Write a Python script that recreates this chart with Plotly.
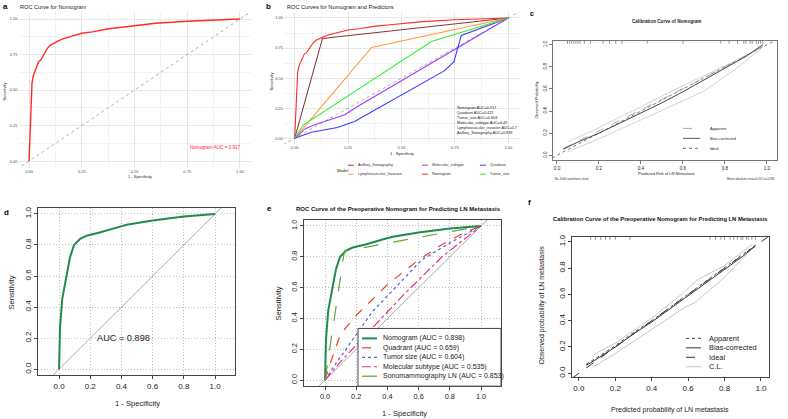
import plotly.graph_objects as go

W, H = 788, 419
FONT = "Liberation Sans, Arial, sans-serif"

# ================= DATA =================
# Panel a / b : Nomogram ROC (training set)
nomo_fpr = [0, 0.003, 0.006, 0.01, 0.014, 0.02, 0.027, 0.035, 0.045, 0.055, 0.065, 0.075,
            0.085, 0.1, 0.115, 0.13, 0.16, 0.2, 0.25, 0.3, 0.37, 0.46, 0.6, 0.75, 0.9, 1.0]
nomo_tpr = [0, 0.1, 0.3, 0.44, 0.55, 0.6, 0.63, 0.67, 0.7, 0.71, 0.74, 0.77,
            0.79, 0.815, 0.83, 0.84, 0.86, 0.88, 0.9, 0.91, 0.93, 0.946, 0.97, 0.985, 0.993, 1.0]
a_auc_label = "Nomogram AUC = 0.917"

# Panel b : predictors
axil_fpr, axil_tpr = [0, 0.13, 1], [0, 0.83, 1]
lymph_fpr, lymph_tpr = [0, 0.36, 1], [0, 0.755, 1]
tumor_fpr, tumor_tpr = [0, 0.04, 0.64, 1], [0, 0.11, 0.805, 1]
mol_fpr, mol_tpr = [0, 0.05, 0.09, 0.235, 0.3, 1], [0, 0.08, 0.11, 0.195, 0.27, 1]
quad_fpr = [0, 0.078, 0.2, 0.28, 0.7, 0.745, 0.78, 1]
quad_tpr = [0, 0.05, 0.09, 0.14, 0.56, 0.635, 0.855, 1]
b_auc_lines = ["Nomogram AUC=0.917", "Quadrant AUC=0.422", "Tumor_size AUC=0.604",
               "Molecular_subtype AUC=0.49", "Lymphovascular_invasion AUC=0.7",
               "Axillary_Sonography AUC=0.833"]
b_models = ["Axillary_Sonography", "Lymphovascular_Invasion", "Molecular_subtype",
            "Nomogram", "Quadrant", "Tumor_size"]
b_colors = ["#8B3A3A", "#FF9A3C", "#9A3CFF", "#FF2A2A", "#3A3AFF", "#33EE33"]

# Panel c : calibration (training)
c_pred = [0.03, 0.1, 0.2, 0.3, 0.4, 0.5, 0.6, 0.7, 0.8, 0.9, 0.98]
c_bias = [0.055, 0.12, 0.2, 0.29, 0.38, 0.475, 0.575, 0.68, 0.79, 0.895, 1.0]
c_app = [0.06, 0.13, 0.22, 0.315, 0.41, 0.505, 0.6, 0.7, 0.8, 0.9, 0.985]
c_hi_pred = [0.05, 0.2, 0.4, 0.6, 0.8, 0.95, 0.98]
c_hi_obs = [0.12, 0.25, 0.44, 0.63, 0.81, 0.95, 0.99]
c_lo_pred = [0.05, 0.2, 0.4, 0.55, 0.7, 0.85, 0.97]
c_lo_obs = [0.03, 0.15, 0.32, 0.45, 0.58, 0.78, 0.96]
c_rug = [0.05, 0.06, 0.07, 0.08, 0.09, 0.1, 0.11, 0.13, 0.16, 0.22, 0.25, 0.28, 0.31,
         0.43, 0.6, 0.78, 0.82, 0.86, 0.89, 0.9, 0.92, 0.93, 0.95, 0.96, 0.97, 0.98]
c_legend = ["Apparent", "Bias-corrected", "Ideal"]

# Panel d / e : validation ROC
d_fpr = [0, 0.004, 0.006, 0.02, 0.043, 0.07, 0.096, 0.135, 0.177, 0.26, 0.38, 0.434, 0.6, 0.8, 1]
d_tpr = [0, 0.1, 0.263, 0.45, 0.573, 0.72, 0.80, 0.84, 0.86, 0.88, 0.915, 0.93, 0.957, 0.983, 1]
d_auc_label = "AUC = 0.898"
sono_fpr, sono_tpr = [0, 0.124, 1], [0, 0.837, 1]
quad_e_fpr = [0, 0.03, 0.1, 0.2, 0.4, 0.6, 0.75, 0.9, 1]
quad_e_tpr = [0, 0.1, 0.3, 0.42, 0.62, 0.78, 0.88, 0.96, 1]
tumor_e_fpr = [0, 0.05, 0.3, 0.62, 0.8, 1]
tumor_e_tpr = [0, 0.08, 0.44, 0.78, 0.89, 1]
mol_e_fpr = [0, 0.1, 0.5, 0.75, 1]
mol_e_tpr = [0, 0.12, 0.55, 0.8, 1]
e_names = ["Nomogram (AUC = 0.898)", "Quadrant (AUC = 0.659)", "Tumor size (AUC = 0.604)",
           "Molecular subtype (AUC = 0.535)", "Sonomammography LN (AUC = 0.853)"]
e_colors = ["#1E8B4C", "#E8402A", "#5B5BD6", "#E8347E", "#5AA832"]
e_dashes = ["solid", "dash", "dot", "dashdot", "longdash"]

# Panel f : calibration (validation)
f_pred = [0.04, 0.1, 0.2, 0.3, 0.4, 0.5, 0.6, 0.7, 0.8, 0.9, 0.97]
f_bias = [0.06, 0.11, 0.2, 0.3, 0.39, 0.49, 0.59, 0.69, 0.79, 0.89, 0.97]
f_app = [0.07, 0.12, 0.21, 0.31, 0.40, 0.50, 0.60, 0.70, 0.80, 0.90, 0.975]
f_hi_pred = [0.08, 0.2, 0.4, 0.58, 0.65, 0.8, 0.95]
f_hi_obs = [0.14, 0.23, 0.42, 0.62, 0.71, 0.82, 0.98]
f_lo_pred = [0.08, 0.2, 0.45, 0.58, 0.64, 0.8, 0.95]
f_lo_obs = [0.05, 0.15, 0.38, 0.5, 0.54, 0.73, 0.95]
f_rug = [0.064, 0.09, 0.12, 0.146, 0.17, 0.2, 0.28, 0.72, 0.75, 0.78, 0.8, 0.83, 0.85,
         0.87, 0.89, 0.9, 0.92, 0.93, 0.95, 0.97]
f_legend = ["Apparent", "Bias-corrected", "Ideal", "C.L."]

ref_line = [-0.2, 1.2]

# ================= LAYOUT HELPERS =================
fig = go.Figure()
annotations, shapes = [], []


def px(x):
    return x / W


def py(y):
    return 1 - y / H


def ann(text, x, y, size, color="#222", bold=False, xanchor="left", yanchor="middle", angle=0):
    if bold:
        text = "<b>" + text + "</b>"
    annotations.append(dict(text=text, x=px(x), y=py(y), xref="paper", yref="paper",
                            showarrow=False, xanchor=xanchor, yanchor=yanchor,
                            textangle=angle, font=dict(size=size, color=color, family=FONT)))


def key(x0, x1, y, color, width=1, dash="solid"):
    shapes.append(dict(type="line", xref="paper", yref="paper", x0=px(x0), x1=px(x1),
                       y0=py(y), y1=py(y), layer="above",
                       line=dict(color=color, width=width, dash=dash)))


def axes(n, xb, yb, xr, yr, **style):
    sfx = "" if n == 1 else str(n)
    xa = dict(domain=[px(xb[0]), px(xb[1])], range=xr, anchor="y" + sfx, zeroline=False)
    ya = dict(domain=[py(yb[1]), py(yb[0])], range=yr, anchor="x" + sfx, zeroline=False)
    xa.update(style.get("x", {}))
    ya.update(style.get("y", {}))
    return {"xaxis" + sfx: xa, "yaxis" + sfx: ya}


def gg_style(fs):
    common = dict(showline=False, ticks="", showgrid=True, gridcolor="#E6E6E6", gridwidth=0.8,
                  tickvals=[0, 0.25, 0.5, 0.75, 1.0], tickformat=".2f",
                  tickfont=dict(size=fs, color="#4D4D4D", family=FONT),
                  minor=dict(tickvals=[0.125, 0.375, 0.625, 0.875], showgrid=True,
                             gridcolor="#F3F3F3", gridwidth=0.5))
    return {"x": dict(common), "y": dict(common)}


def r_style(fs, grid, boxcol="#444"):
    common = dict(showline=True, mirror=True, linecolor=boxcol, linewidth=1,
                  ticks="outside", ticklen=3, tickcolor=boxcol, tickwidth=1,
                  tickvals=[0, 0.2, 0.4, 0.6, 0.8, 1.0], tickformat=".1f",
                  tickfont=dict(size=fs, color="#222", family=FONT),
                  showgrid=grid, gridcolor="#BDBDBD", gridwidth=0.9, griddash="1px,2px")
    x = dict(common)
    y = dict(common)
    y["tickangle"] = -90
    return {"x": x, "y": y}


def line(x, y, n, color, width=1, dash="solid"):
    sfx = "" if n == 1 else str(n)
    fig.add_trace(go.Scatter(x=x, y=y, mode="lines", xaxis="x" + sfx, yaxis="y" + sfx,
                             line=dict(color=color, width=width, dash=dash),
                             showlegend=False, hoverinfo="skip"))


def rug(vals, n, yr, pix_per_unit):
    sfx = "" if n == 1 else str(n)
    ypos = yr[1] - 1.5 / pix_per_unit
    fig.add_trace(go.Scatter(x=vals, y=[ypos] * len(vals), mode="markers",
                             xaxis="x" + sfx, yaxis="y" + sfx, cliponaxis=False,
                             marker=dict(symbol="line-ns", size=2,
                                         line=dict(width=0.7, color="#666")),
                             showlegend=False, hoverinfo="skip"))


layout_axes = {}

# ---------- Panel a ----------
a_xr, a_yr = [-0.05, 1.05], [-0.05, 1.05]
layout_axes.update(axes(1, (18.5, 250.5), (10, 167), a_xr, a_yr, **gg_style(4)))
line(ref_line, ref_line, 1, "#9A9A9A", 0.8, "dot")
line(nomo_fpr, nomo_tpr, 1, "#FF2A2A", 1.4)
ann("a", 1, 5, 8, "#000", bold=True)
ann("ROC Curve for Nomogram", 18, 5, 5.6, "#222")
ann("1 - Specificity", 140, 175, 4, "#222", xanchor="center")
ann("Sensitivity", 5, 90, 4, "#222", xanchor="center", angle=-90)
ann(a_auc_label, 188, 146, 4.6, "#FF2A2A")

# ---------- Panel b ----------
b_xr, b_yr = [-0.05, 1.05], [-0.05, 1.05]
layout_axes.update(axes(2, (284, 519), (10, 143), b_xr, b_yr, **gg_style(4)))
line(ref_line, ref_line, 2, "#9A9A9A", 0.8, "dot")
b_series = {
    "Axillary_Sonography": (axil_fpr, axil_tpr),
    "Lymphovascular_Invasion": (lymph_fpr, lymph_tpr),
    "Molecular_subtype": (mol_fpr, mol_tpr),
    "Nomogram": (nomo_fpr, nomo_tpr),
    "Quadrant": (quad_fpr, quad_tpr),
    "Tumor_size": (tumor_fpr, tumor_tpr),
}
for name, col in zip(b_models, b_colors):
    fx, fy = b_series[name]
    line(fx, fy, 2, col, 1.1)
ann("b", 264, 5, 8, "#000", bold=True)
ann("ROC Curves for Nomogram and Predictors", 285, 5, 5.6, "#222")
ann("1 - Specificity", 402, 152, 4, "#222", xanchor="center")
ann("Sensitivity", 272, 80, 4, "#222", xanchor="center", angle=-90)
for i, t in enumerate(b_auc_lines):
    ann(t, 455, 107 + i * 4.9, 3.8, "#222")
ann("Model", 335, 169, 4.2, "#222")
col_key_x = [348, 422, 480]
row_y = [164, 173]
for i, (name, col) in enumerate(zip(b_models, b_colors)):
    c, r = i // 2, i % 2
    key(col_key_x[c], col_key_x[c] + 6, row_y[r], col, 1)
    ann(name, col_key_x[c] + 8, row_y[r], 3.8, "#333")

# ---------- Panel c ----------
c_xr, c_yr = [-0.019, 1.048], [-0.045, 1.036]
cs = r_style(4.6, False, "#777")
layout_axes.update(axes(3, (553, 777), (39, 159), c_xr, c_yr, **cs))
line(ref_line, ref_line, 3, "#555", 0.8, "dot")
line(c_hi_pred, c_hi_obs, 3, "#C8C8C8", 0.8)
line(c_lo_pred, c_lo_obs, 3, "#C8C8C8", 0.8)
line(c_pred, c_app, 3, "#A0A0A0", 0.8, "dash")
line(c_pred, c_bias, 3, "#444", 1)
rug(c_rug, 3, c_yr, 111)
ann("c", 528, 12, 7, "#000", bold=True)
ann("Calibration Curve of Nomogram", 666, 20, 4.6, "#222", bold=True, xanchor="center")
ann("Predicted Risk of LN Metastasis", 666, 172, 4, "#222", xanchor="center")
ann("Observed Probability", 537, 99, 4, "#222", xanchor="center", angle=-90)
ann("B= 1000 repetitions, boot", 553, 178, 3, "#333")
ann("Mean absolute error=0.012 n=1248", 776, 178, 3, "#333", xanchor="right")
c_key_styles = [("#A0A0A0", "dash"), ("#444", "solid"), ("#555", "dot")]
for i, (t, (col, ds)) in enumerate(zip(c_legend, c_key_styles)):
    yy = 127 + i * 10
    key(683, 700, yy, col, 0.9, ds)
    ann(t, 708, yy, 4, "#222")

# ---------- Panel d ----------
d_xr, d_yr = [-0.135, 1.128], [-0.038, 1.038]
layout_axes.update(axes(4, (38, 235), (207, 375), d_xr, d_yr, **r_style(8, True)))
line(ref_line, ref_line, 4, "#AAAAAA", 1)
line(d_fpr, d_tpr, 4, "#1E8B4C", 2)
ann("d", 2, 212, 8, "#000", bold=True)
ann("1 - Specificity", 137, 403, 7.6, "#222", xanchor="center")
ann("Sensitivity", 12, 292, 7.6, "#222", xanchor="center", angle=-90)
ann(d_auc_label, 95, 338, 9.2, "#222")

# ---------- Panel e ----------
e_xr, e_yr = [-0.135, 1.128], [-0.039, 1.039]
layout_axes.update(axes(5, (304, 501), (219, 386), e_xr, e_yr, **r_style(7.4, True)))
line(ref_line, ref_line, 5, "#AAAAAA", 1)
e_series = [(d_fpr, d_tpr), (quad_e_fpr, quad_e_tpr), (tumor_e_fpr, tumor_e_tpr),
            (mol_e_fpr, mol_e_tpr), (sono_fpr, sono_tpr)]
e_widths = [2, 1.2, 1.2, 1.2, 1.2]
for (fx, fy), col, ds, wd in zip(e_series, e_colors, e_dashes, e_widths):
    line(fx, fy, 5, col, wd, ds)
ann("e", 265, 207, 8, "#000", bold=True)
ann("ROC Curve of the Preoperative Nomogram for Predicting LN Metastasis", 398, 208, 6,
    "#111", bold=True, xanchor="center")
ann("1 - Specificity", 404, 413, 7.6, "#222", xanchor="center")
ann("Sensitivity", 279, 303, 7.6, "#222", xanchor="center", angle=-90)
shapes.append(dict(type="rect", xref="paper", yref="paper", x0=px(358), x1=px(501),
                   y0=py(386), y1=py(328), fillcolor="white", layer="above",
                   line=dict(color="#444", width=1)))
for i, (t, col, ds, wd) in enumerate(zip(e_names, e_colors, e_dashes, e_widths)):
    yy = 338 + i * 9.5
    key(362, 377, yy, col, wd, ds)
    ann(t, 381, yy, 7, "#222")

# ---------- Panel f ----------
f_xr, f_yr = [-0.038, 1.044], [-0.03, 1.038]
layout_axes.update(axes(6, (572, 769), (236, 377), f_xr, f_yr, **r_style(8, False)))
line(ref_line, ref_line, 6, "#333", 1, "dash")
line(f_hi_pred, f_hi_obs, 6, "#C8C8C8", 1)
line(f_lo_pred, f_lo_obs, 6, "#C8C8C8", 1)
line(f_pred, f_app, 6, "#444", 1, "dot")
line(f_pred, f_bias, 6, "#333", 1)
rug(f_rug, 6, f_yr, 132)
ann("f", 526, 201, 8, "#000", bold=True)
ann("Calibration Curve of the Preoperative Nomogram for Predicting LN Metastasis", 660, 218,
    5.8, "#111", bold=True, xanchor="center")
ann("Predicted probability of LN metastasis", 670, 410, 7, "#222", xanchor="center")
ann("Observed probability of LN metastasis", 542, 305, 7, "#222", xanchor="center", angle=-90)
f_key_styles = [("#444", "dot"), ("#333", "solid"), ("#333", "dash"), ("#C8C8C8", "solid")]
for i, (t, (col, ds)) in enumerate(zip(f_legend, f_key_styles)):
    yy = 338 + i * 9.5
    key(686, 701, yy, col, 1, ds)
    ann(t, 707, yy, 7.4, "#222")

fig.update_layout(
    width=W, height=H, margin=dict(l=0, r=0, t=0, b=0),
    paper_bgcolor="white", plot_bgcolor="white",
    font=dict(family=FONT, color="#222"),
    showlegend=False,
    annotations=annotations, shapes=shapes,
    **layout_axes,
)

fig.write_html("out.html")
